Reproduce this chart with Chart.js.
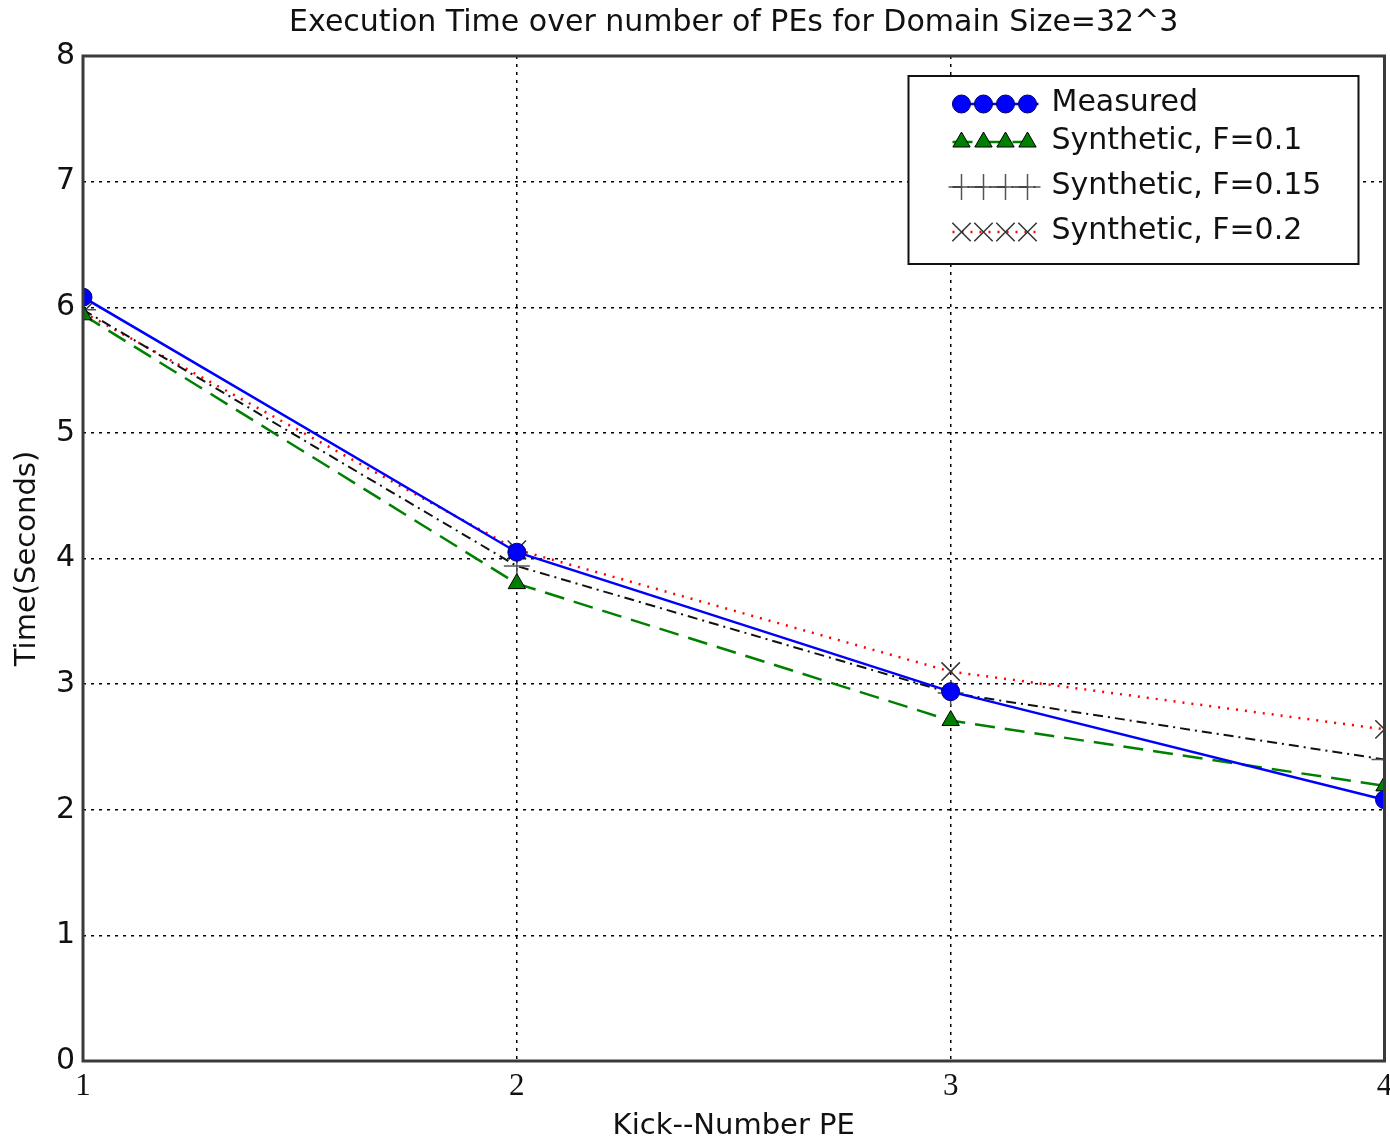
<!DOCTYPE html>
<html>
<head>
<meta charset="utf-8">
<script src="https://cdn.jsdelivr.net/npm/chart.js@4.4.1/dist/chart.umd.min.js"></script>
<style>
    html, body { margin: 0; padding: 0; background: #fff; overflow: hidden; }
    #grafica { display: block; }
</style>
</head>
<body>
<canvas id="grafica" width="1399" height="1141"></canvas>
<script>
'use strict'

//Datos
const numeroPE = [1, 2, 3, 4];
const medido = [6.08, 4.05, 2.94, 2.08];
const sintetico010 = [5.94, 3.80, 2.71, 2.19];
const sintetico015 = [5.98, 3.94, 2.93, 2.40];
const sintetico020 = [5.96, 4.07, 3.10, 2.64];
const ticksY = [0, 1, 2, 3, 4, 5, 6, 7, 8];

const titulo = 'Execution Time over number of PEs for Domain Size=32^3';
const etiquetas = ['Measured', 'Synthetic, F=0.1', 'Synthetic, F=0.15', 'Synthetic, F=0.2'];

const ctx = document.getElementById('grafica').getContext('2d');
const fuente = 'DejaVu Sans';

function puntos(valores) {
    return numeroPE.map((x, i) => ({ x: x, y: valores[i] }));
}

//Titulo y marco del area de la grafica
const marcoPlugin = {
    id: 'marco',
    afterDatasetsDraw(chart) {
        const a = chart.chartArea;
        const c = chart.ctx;
        c.save();
        c.strokeStyle = '#3a3a3a';
        c.lineWidth = 3;
        c.strokeRect(a.left, a.top, a.right - a.left, a.bottom - a.top);
        c.fillStyle = '#111';
        c.font = '30px "' + fuente + '"';
        c.textAlign = 'center';
        c.textBaseline = 'middle';
        c.fillText(titulo, (a.left + a.right) / 2, 23);
        c.restore();
    }
};

//Leyenda con cuatro marcadores por fila, como en matplotlib
const leyendaPlugin = {
    id: 'leyendaMarcadores',
    afterDraw(chart) {
        const c = chart.ctx;
        const a = chart.chartArea;
        const x0 = a.right - 476, y0 = a.top + 20, ancho = 450, alto = 188;
        const filas = [104, 142, 187, 232];
        c.save();
        c.fillStyle = '#fff';
        c.fillRect(x0, y0, ancho, alto);
        c.strokeStyle = '#111';
        c.lineWidth = 2;
        c.strokeRect(x0, y0, ancho, alto);
        chart.data.datasets.forEach((ds, i) => {
            const y = filas[i];
            c.save();
            c.strokeStyle = ds.borderColor;
            c.lineWidth = ds.borderWidth;
            c.setLineDash(ds.borderDash || []);
            c.beginPath();
            c.moveTo(x0 + 44, y);
            c.lineTo(x0 + 130, y);
            c.stroke();
            c.restore();
            for (let k = 0; k < 4; k++) {
                c.save();
                c.fillStyle = ds.pointBackgroundColor;
                c.strokeStyle = ds.pointBorderColor;
                c.lineWidth = ds.pointBorderWidth;
                Chart.helpers.drawPoint(c, {
                    pointStyle: ds.pointStyle,
                    radius: ds.pointRadius,
                    rotation: 0,
                    borderWidth: ds.pointBorderWidth
                }, x0 + 53 + k * 22, y);
                c.restore();
            }
            c.fillStyle = '#111';
            c.font = '30px "' + fuente + '"';
            c.textAlign = 'left';
            c.textBaseline = 'middle';
            c.fillText(etiquetas[i], x0 + 143, y - 1);
        });
        c.restore();
    }
};

const grafica = new Chart(ctx, {
    type: 'line',
    data: {
        datasets: [
            {
                label: etiquetas[0],
                data: puntos(medido),
                borderColor: '#0000ff',
                borderWidth: 2.5,
                pointStyle: 'circle',
                pointRadius: 9,
                pointBackgroundColor: '#0000ff',
                pointBorderColor: '#000066',
                pointBorderWidth: 1,
                order: 1
            },
            {
                label: etiquetas[1],
                data: puntos(sintetico010),
                borderColor: '#008000',
                borderWidth: 2.5,
                borderDash: [20, 10],
                pointStyle: 'triangle',
                pointRadius: 10,
                pointBackgroundColor: '#008000',
                pointBorderColor: '#000',
                pointBorderWidth: 1,
                order: 2
            },
            {
                label: etiquetas[2],
                data: puntos(sintetico015),
                borderColor: '#111',
                borderWidth: 2,
                borderDash: [10, 5, 2, 5],
                pointStyle: 'cross',
                pointRadius: 13,
                pointBackgroundColor: '#555',
                pointBorderColor: '#555',
                pointBorderWidth: 1.5,
                order: 3
            },
            {
                label: etiquetas[3],
                data: puntos(sintetico020),
                borderColor: '#ff0000',
                borderWidth: 2.5,
                borderDash: [2, 7],
                pointStyle: 'crossRot',
                pointRadius: 13,
                pointBackgroundColor: '#333',
                pointBorderColor: '#333',
                pointBorderWidth: 1.5,
                order: 4
            }
        ]
    },
    options: {
        animation: false,
        responsive: false,
        layout: { padding: { top: 56, right: 5, left: 0, bottom: 0 } },
        elements: { line: { tension: 0 } },
        plugins: {
            legend: { display: false },
            title: { display: false },
            tooltip: { enabled: false }
        },
        scales: {
            x: {
                type: 'linear',
                min: 1,
                max: 4,
                afterBuildTicks: (eje) => { eje.ticks = numeroPE.map(v => ({ value: v })); },
                afterFit: (eje) => { eje.height = 80; eje.paddingLeft = 0; eje.paddingRight = 0; },
                border: { display: false, dash: [3, 5] },
                grid: {
                    color: '#000',
                    lineWidth: 1.5,
                    drawTicks: false
                },
                ticks: {
                    padding: 7,
                    color: '#111',
                    font: { family: 'Liberation Serif', size: 31 }
                },
                title: {
                    display: true,
                    text: 'Kick--Number PE',
                    color: '#111',
                    font: { family: fuente, size: 29, lineHeight: 1 },
                    padding: { top: 12, bottom: 0 }
                }
            },
            y: {
                min: 0,
                max: 8,
                afterBuildTicks: (eje) => { eje.ticks = ticksY.map(v => ({ value: v })); },
                afterFit: (eje) => { eje.width = 83; eje.paddingTop = 0; eje.paddingBottom = 0; },
                border: { display: false, dash: [3, 5] },
                grid: {
                    color: '#000',
                    lineWidth: 1.5,
                    drawTicks: false
                },
                ticks: {
                    padding: 8,
                    color: '#111',
                    font: { family: fuente, size: 30 }
                },
                title: {
                    display: true,
                    text: 'Time(Seconds)',
                    color: '#111',
                    font: { family: fuente, size: 29 },
                    padding: { top: 10, bottom: 0 }
                }
            }
        }
    },
    plugins: [marcoPlugin, leyendaPlugin]
});
</script>
</body>
</html>
